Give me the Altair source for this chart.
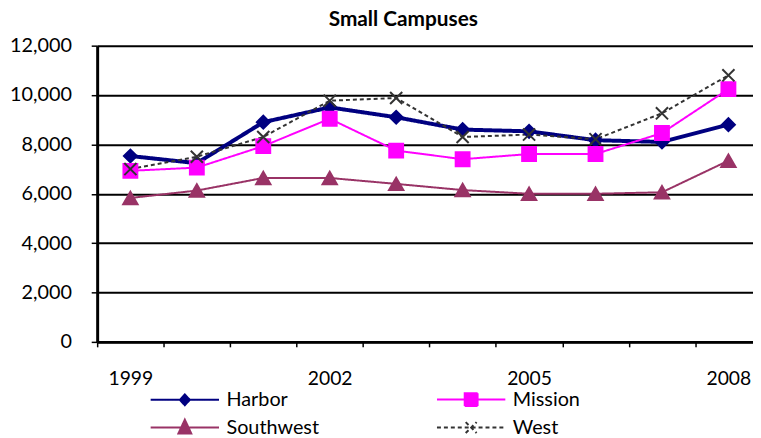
import altair as alt
import pandas as pd

years = [1999, 2000, 2001, 2002, 2003, 2004, 2005, 2006, 2007, 2008]
series_names = ["Harbor", "Mission", "Southwest", "West"]
harbor = [7530, 7240, 8900, 9500, 9100, 8600, 8530, 8170, 8100, 8800]
mission = [6930, 7060, 7930, 9040, 7750, 7400, 7610, 7610, 8460, 10240]
southwest = [5830, 6130, 6640, 6640, 6400, 6150, 6000, 6000, 6060, 7340]
west = [7000, 7500, 8300, 9770, 9880, 8300, 8400, 8210, 9260, 10800]
y_ticks = [0, 2000, 4000, 6000, 8000, 10000, 12000]
x_tick_values = [1998.5, 1999.5, 2000.5, 2001.5, 2002.5, 2003.5, 2004.5, 2005.5, 2006.5, 2007.5]

colors = ["#000080", "#FF00FF", "#993366", "#333333"]
line_widths = [4, 2, 2, 2]
dashes = [[1, 0], [1, 0], [1, 0], [4, 3]]
plot_shapes = ["diamond", "square", "triangle-up", "M-1,-1L1,1M-1,1L1,-1"]
plot_sizes = [170, 196, 210, 150]
legend_shapes = [
    "M-3.45,0H3.45M0,-0.55L0.5,0L0,0.55L-0.5,0Z",
    "M-3.45,0H3.45M-0.65,-0.65H0.65V0.65H-0.65Z",
    "M-3.45,0H3.45M0,-0.8L0.65,0.6H-0.65Z",
    "M-3.45,0H3.45M-0.55,-0.55L0.55,0.55M-0.55,0.55L0.55,-0.55",
]
# legend grid fills column by column: Harbor/Southwest left, Mission/West right
legend_order = [0, 2, 1, 3]
leg_domain = [series_names[i] for i in legend_order]
leg_colors = [colors[i] for i in legend_order]
leg_dashes = [dashes[i] for i in legend_order]
leg_shapes = [legend_shapes[i] for i in legend_order]

rows = []
for i, (name, vals) in enumerate(zip(series_names, [harbor, mission, southwest, west])):
    for yr, v in zip(years, vals):
        rows.append({
            "year": yr, "value": v, "series": name, "order": i,
            "col": colors[i], "lw": line_widths[i], "dash": dashes[i],
            "shape": plot_shapes[i], "size": plot_sizes[i],
        })
df = pd.DataFrame(rows)

x_enc = alt.X(
    "year:Q",
    scale=alt.Scale(domain=[1998.5, 2008.37], nice=False, zero=False),
    axis=alt.Axis(
        values=x_tick_values, title=None, grid=False,
        labelExpr="(datum.value - 1998.5) % 3 == 0 ? toString(datum.value + 0.5) : ''",
        labelOffset=33.5, labelFlush=False, labelBound=False, labelOverlap=False,
        tickSize=5, tickColor="black", tickWidth=1.5,
        domainColor="black", domainWidth=3,
        labelFontSize=19.5, labelColor="black", labelPadding=23,
    ),
)
y_enc = alt.Y(
    "value:Q",
    scale=alt.Scale(domain=[0, 12000], nice=False),
    axis=alt.Axis(
        values=y_ticks, format=",d", title=None,
        grid=True, gridColor="black", gridWidth=2, gridOpacity=1,
        tickSize=6, tickColor="black", tickWidth=1.5,
        domainColor="black", domainWidth=3,
        labelFontSize=20, labelColor="black", labelPadding=20,
    ),
)

lines = alt.Chart(df).mark_line().encode(
    x=x_enc, y=y_enc,
    detail="series:N",
    color=alt.Color("col:N", scale=None),
    strokeWidth=alt.StrokeWidth("lw:Q", scale=None),
    strokeDash=alt.StrokeDash("dash", scale=None),
    order="year:Q",
)

points = alt.Chart(df).mark_point(filled=True, strokeWidth=2, opacity=1).encode(
    x="year:Q", y="value:Q",
    shape=alt.Shape("shape:N", scale=None),
    fill=alt.Fill("col:N", scale=None),
    stroke=alt.Stroke("col:N", scale=None),
    size=alt.Size("size:Q", scale=None),
)

leg = alt.Legend(
    title=None, orient="none", legendX=77.5, legendY=346, columns=2,
    columnPadding=114, rowPadding=5.5, labelFontSize=20, labelOffset=31,
    symbolSize=400, symbolStrokeWidth=2, padding=0, labelColor="black",
)
legend_layer = alt.Chart(df).transform_filter("datum.value < 0").mark_point(
    filled=True, strokeWidth=2, opacity=1, size=400
).encode(
    x="year:Q", y="value:Q",
    shape=alt.Shape("series:N", scale=alt.Scale(domain=leg_domain, range=leg_shapes), legend=leg),
    fill=alt.Fill("series:N", scale=alt.Scale(domain=leg_domain, range=leg_colors), legend=leg),
    stroke=alt.Stroke("series:N", scale=alt.Scale(domain=leg_domain, range=leg_colors), legend=leg),
    strokeDash=alt.StrokeDash("series:N", scale=alt.Scale(domain=leg_domain, range=leg_dashes), legend=leg),
)

chart = alt.layer(lines, points, legend_layer).properties(
    width=662, height=299,
    title=alt.TitleParams(
        "Small Campuses", fontSize=21, fontWeight="bold", color="black",
        anchor="middle", frame="group", dx=-22, dy=21, offset=10, baseline="alphabetic",
    ),
    autosize=alt.AutoSizeParams(type="none"),
    padding={"left": 90, "top": 36, "right": 0, "bottom": 94},
).configure(font="Lato").configure_view(stroke=None)

chart.save("out.html", embed_options={"renderer": "svg", "actions": False})
